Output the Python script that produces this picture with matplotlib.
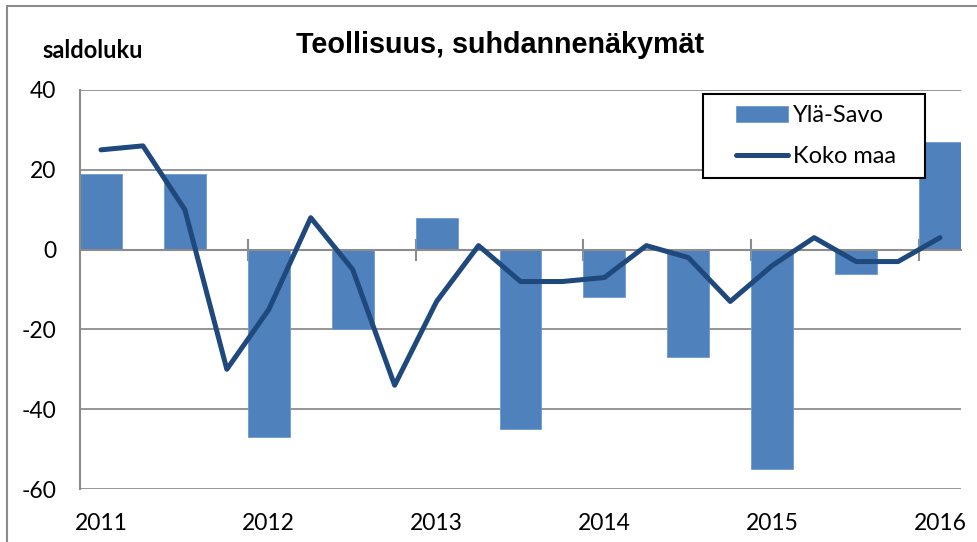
import numpy as np
import matplotlib
matplotlib.use("Agg")
import matplotlib.pyplot as plt
from matplotlib.patches import Rectangle
from matplotlib.lines import Line2D
from matplotlib.patches import Patch

# ---- data ----
periods = ["2011 Q1", "2011 Q2", "2011 Q3", "2011 Q4",
           "2012 Q1", "2012 Q2", "2012 Q3", "2012 Q4",
           "2013 Q1", "2013 Q2", "2013 Q3", "2013 Q4",
           "2014 Q1", "2014 Q2", "2014 Q3", "2014 Q4",
           "2015 Q1", "2015 Q2", "2015 Q3", "2015 Q4",
           "2016 Q1"]
yla_savo = [19, np.nan, 19, np.nan, -47, np.nan, -20, np.nan, 8, np.nan,
            -45, np.nan, -12, np.nan, -27, np.nan, -55, np.nan, -6, np.nan, 27]
koko_maa = [25, 26, 10, -30, -15, 8, -5, -34, -13, 1,
            -8, -8, -7, 1, -2, -13, -4, 3, -3, -3, 3]
year_labels = ["2011", "2012", "2013", "2014", "2015", "2016"]
y_ticks = [40, 20, 0, -20, -40, -60]

W, H = 978, 542
fig = plt.figure(figsize=(W / 100, H / 100), dpi=100)
fig.patch.set_facecolor("white")

# outer chart border
fig.add_artist(Rectangle((7 / W, -0.05), 1.2, (H - 6) / H + 0.05,
                         transform=fig.transFigure, fill=False,
                         edgecolor="#8c8c8c", linewidth=1.5))

ax = fig.add_axes([80 / W, (H - 489) / H, 881 / W, 399 / H])
x = np.arange(len(periods))
ys = np.array(yla_savo, dtype=float)
mask = ~np.isnan(ys)

bar_color = "#4F81BD"
line_color = "#1F497D"
lw = 3.6

ax.bar(x[mask], ys[mask], width=1.0, color=bar_color,
       edgecolor="#6f9ad0", linewidth=0.6, zorder=2)
ax.plot(x, koko_maa, color=line_color, linewidth=lw,
        solid_joinstyle="round", solid_capstyle="round", zorder=3)

ax.set_xlim(-0.5, len(periods) - 0.5)
ax.set_ylim(-60, 40)

# gridlines
ax.set_yticks(y_ticks)
ax.yaxis.grid(True, color="#969696", linewidth=1.4, zorder=0)
ax.set_axisbelow(True)
tick_font = dict(family="Lato", size=16.5)
ax.set_yticklabels([str(v) for v in y_ticks], **tick_font)
ax.tick_params(axis="y", length=0, pad=17)

# category axis at zero with boundary ticks
for s in ["top", "right"]:
    ax.spines[s].set_visible(False)
ax.spines["left"].set_color("#8c8c8c")
ax.spines["left"].set_linewidth(1.5)
ax.spines["bottom"].set_position(("data", 0))
ax.spines["bottom"].set_color("#8c8c8c")
ax.spines["bottom"].set_linewidth(1.5)
ax.spines["bottom"].set_zorder(2.5)
ax.set_xticks(np.arange(3.5, len(periods) - 1, 4))
ax.set_xticklabels([])
ax.tick_params(axis="x", direction="inout", length=16, width=1.5,
               color="#8c8c8c")

sec = ax.secondary_xaxis("bottom")
sec.spines["bottom"].set_visible(False)
sec.set_xticks(np.arange(0, len(periods), 4))
sec.set_xticklabels(year_labels, **tick_font)
sec.tick_params(length=0, pad=17)

# titles
fig.text(500 / W, 1 - 45 / H, "Teollisuus, suhdannenäkymät",
         family="Liberation Sans", weight="bold", size=20.7,
         ha="center", va="center")
fig.text(42 / W, 1 - 50 / H, "saldoluku", family="Lato",
         weight="bold", size=17, ha="left", va="center")

# legend (frame drawn separately)
fig.add_artist(Rectangle((703 / W, 1 - 178 / H), 222 / W, 84 / H,
                         transform=fig.transFigure, fill=True,
                         facecolor="white", edgecolor="black",
                         linewidth=1.5, zorder=4))
handles = [Patch(facecolor=bar_color, edgecolor="#6f9ad0", linewidth=0.6),
           Line2D([0], [0], color=line_color, linewidth=lw,
                  solid_capstyle="round")]
leg = fig.legend(handles, ["Ylä-Savo", "Koko maa"],
                 loc="center left",
                 bbox_to_anchor=(736 / W, 1 - 136 / H),
                 bbox_transform=fig.transFigure,
                 prop=dict(family="Lato", size=17),
                 frameon=False, borderpad=0,
                 handlelength=2.2, handleheight=0.65, handletextpad=0.2,
                 labelspacing=0.85, borderaxespad=0)
leg.set_zorder(5)

fig.savefig("out.png", dpi=100, facecolor="white")
